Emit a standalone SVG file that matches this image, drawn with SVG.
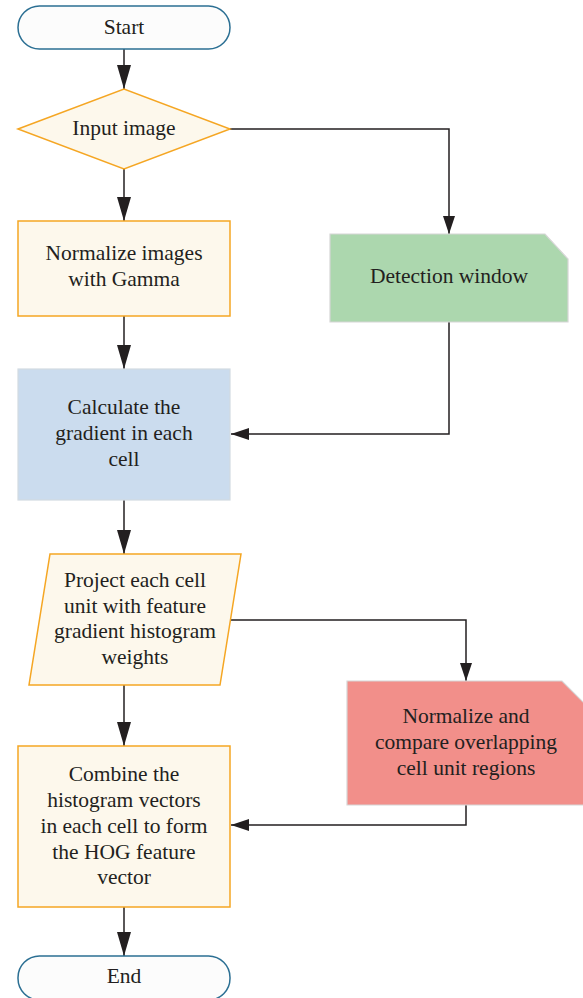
<svg xmlns="http://www.w3.org/2000/svg" width="583" height="998" viewBox="0 0 583 998">
<defs>
<marker id="arr" viewBox="0 0 24 14" markerWidth="24" markerHeight="14" refX="24" refY="7" orient="auto" markerUnits="userSpaceOnUse">
<path d="M0,0 L24,7 L0,14 Z" fill="#231f20"/>
</marker>
<marker id="arrs" viewBox="0 0 18 12" markerWidth="18" markerHeight="12" refX="18" refY="6" orient="auto" markerUnits="userSpaceOnUse">
<path d="M0,0 L18,6 L0,12 Z" fill="#231f20"/>
</marker>
</defs>
<style>
text{font-family:"Liberation Serif","Times New Roman",serif;font-size:21.5px;fill:#231f20;text-anchor:middle;}
.term{fill:#fcfcfc;stroke:#2b6f93;stroke-width:1.5;}
.orange{fill:#fdf8ec;stroke:#f5a623;stroke-width:1.5;}
.blue{fill:#cbdcee;stroke:#d3dbe2;stroke-width:1.2;}
.green{fill:#acd7ae;stroke:#d6d6d6;stroke-width:1.2;}
.red{fill:#f28f8a;stroke:#d6d6d6;stroke-width:1.2;}
.c{fill:none;stroke:#231f20;stroke-width:1.5;}
</style>
<rect width="583" height="998" fill="#ffffff"/>
<g id="connectors">
<line class="c" x1="124" y1="49" x2="124" y2="89" marker-end="url(#arr)"/>
<line class="c" x1="124" y1="169" x2="124" y2="221" marker-end="url(#arr)"/>
<line class="c" x1="124" y1="316" x2="124" y2="369" marker-end="url(#arr)"/>
<line class="c" x1="124" y1="500" x2="124" y2="554" marker-end="url(#arr)"/>
<line class="c" x1="124" y1="685" x2="124" y2="746" marker-end="url(#arr)"/>
<line class="c" x1="124" y1="907" x2="124" y2="956" marker-end="url(#arr)"/>
<polyline class="c" points="230,129 449,129 449,234" marker-end="url(#arrs)"/>
<polyline class="c" points="449,322 449,434 231,434" marker-end="url(#arrs)"/>
<polyline class="c" points="230,620 466,620 466,681" marker-end="url(#arrs)"/>
<polyline class="c" points="466,805 466,825 231,825" marker-end="url(#arrs)"/>
</g>
<g id="start">
<rect class="term" x="18" y="6" width="212" height="43" rx="21.5"/>
<text x="124" y="34">Start</text>
</g>
<g id="input">
<polygon class="orange" points="18,129 124,89 230,129 124,169"/>
<text x="124" y="135">Input image</text>
</g>
<g id="gamma">
<rect class="orange" x="18" y="221" width="212" height="95"/>
<text x="124" y="260">Normalize images</text>
<text x="124" y="286">with Gamma</text>
</g>
<g id="gradient">
<rect class="blue" x="18" y="369" width="212" height="131"/>
<text x="124" y="414">Calculate the</text>
<text x="124" y="440">gradient in each</text>
<text x="124" y="466">cell</text>
</g>
<g id="project">
<polygon class="orange" points="50,554 241,554 220,685 29,685"/>
<text x="135" y="587">Project each cell</text>
<text x="135" y="613">unit with feature</text>
<text x="135" y="638">gradient histogram</text>
<text x="135" y="664">weights</text>
</g>
<g id="combine">
<rect class="orange" x="18" y="746" width="212" height="161"/>
<text x="124" y="781">Combine the</text>
<text x="124" y="807">histogram vectors</text>
<text x="124" y="833">in each cell to form</text>
<text x="124" y="859">the HOG feature</text>
<text x="124" y="884">vector</text>
</g>
<g id="end">
<rect class="term" x="18" y="956" width="212" height="44" rx="21.5"/>
<text x="124" y="983">End</text>
</g>
<g id="detection">
<path class="green" d="M330,234 H545 L568,259 V322 H330 Z"/>
<text x="449" y="283">Detection window</text>
</g>
<g id="normalize">
<path class="red" d="M347,681 H562 L585,704 V805 H347 Z"/>
<text x="466" y="723">Normalize and</text>
<text x="466" y="749">compare overlapping</text>
<text x="466" y="775">cell unit regions</text>
</g>
</svg>
